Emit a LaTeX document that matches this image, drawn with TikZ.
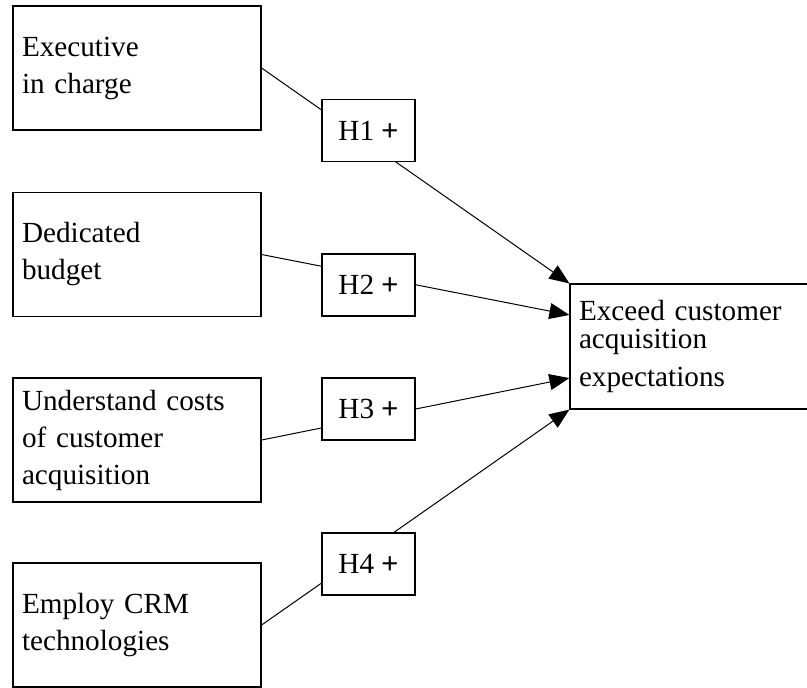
\documentclass[tikz,border=0pt]{standalone}
\usepackage{fontspec}
\setmainfont{Liberation Serif}
\setsansfont{Liberation Sans}
\usetikzlibrary{arrows.meta,calc}
\begin{document}
\begin{tikzpicture}[x=0.5pt,y=-0.5pt,
  factor/.style={draw,line width=0.6pt,minimum width=124pt,minimum height=62pt,
    text width=115pt,inner xsep=4.5pt,align=left,font=\fontsize{14.6}{18.5}\selectfont},
  hypo/.style={draw,fill=white,line width=0.6pt,minimum width=46.5pt,minimum height=31pt,
    inner sep=0pt,font=\fontsize{14.6}{18.5}\selectfont},
  link/.style={line width=0.5pt,-{Triangle[length=10pt,width=8pt]}}]
  \useasboundingbox (0,0) rectangle (807,687);
  % Antecedents
  \node[factor] (exec) at (137,68) {Executive\\in charge};
  \node[factor] (budget) at (137,254.5) {Dedicated\\budget};
  \node[factor] (costs) at (137,440) {Understand costs\\of customer\\acquisition};
  \node[factor] (crm) at (137,625) {Employ CRM\\technologies};
  % Outcome
  \node[factor,minimum width=119pt,minimum height=62.5pt,text width=110pt] (exceed) at (689,346.5)
    {Exceed customer\\[-4.5pt]acquisition\\[0.5pt]expectations};
  % Paths
  \draw[link] (exec.east) -- (exceed.north west);
  \draw[link] (budget.east) -- ($(exceed.north west)!0.25!(exceed.south west)$);
  \draw[link] (costs.east) -- ($(exceed.north west)!0.75!(exceed.south west)$);
  \draw[link] (crm.east) -- (exceed.south west);
  % Hypotheses
  \node[hypo] (h1) at (368.5,130.5) {H1 \textsf{+}};
  \node[hypo] (h2) at (368.5,285) {H2 \textsf{+}};
  \node[hypo] (h3) at (368.5,409) {H3 \textsf{+}};
  \node[hypo] (h4) at (368.5,564) {H4 \textsf{+}};
\end{tikzpicture}
\end{document}
